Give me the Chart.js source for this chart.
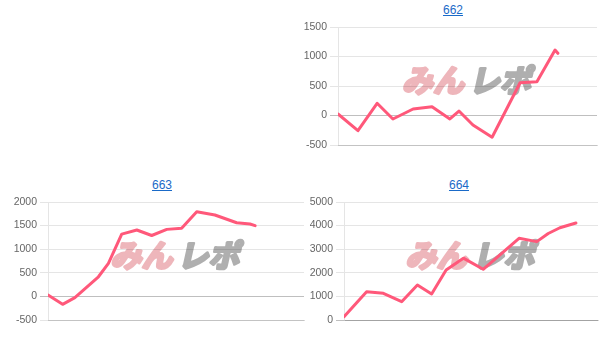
<!DOCTYPE html>
<html>
<head>
<meta charset="utf-8">
<script src="https://cdn.jsdelivr.net/npm/chart.js@4.4.1/dist/chart.umd.min.js"></script>
<style>
  html, body { margin: 0; padding: 0; background: #fff; width: 608px; height: 345px; overflow: hidden; }
  .ttl { position: absolute; width: 100px; text-align: center; font: 12px "Liberation Sans", Arial, sans-serif; }
  .ttl a { color: #1a6ac8; text-decoration: underline; }
  canvas { position: absolute; }
</style>
</head>
<body>
<div class="ttl" id="t662" style="left:403px; top:3px;"><a href="#">662</a></div>
<div class="ttl" id="t663" style="left:112px; top:178px;"><a href="#">663</a></div>
<div class="ttl" id="t664" style="left:409px; top:178px;"><a href="#">664</a></div>
<canvas id="c662" width="308" height="150" style="left:300px; top:15px;"></canvas>
<canvas id="c663" width="308" height="150" style="left:0px; top:190px;"></canvas>
<canvas id="c664" width="308" height="150" style="left:300px; top:190px;"></canvas>
<script>
// ---- data (x = game count, y = difference) ----
const titles = ["662", "663", "664"];
const xMax = 10000;

const x662 = [0, 770, 1510, 2120, 2900, 3630, 4320, 4670, 5210, 5950, 7030, 7680, 8380, 8490];
const y662 = [25, -258, 207, -59, 110, 150, -59, 76, -161, -369, 556, 573, 1110, 1054];

const x663 = [0, 570, 1050, 1970, 2360, 2880, 3470, 4050, 4640, 5220, 5810, 6520, 7370, 7890, 8090];
const y663 = [30, -168, -27, 416, 701, 1320, 1407, 1290, 1420, 1443, 1795, 1725, 1561, 1534, 1498];

const x664 = [0, 890, 1550, 2270, 2890, 3450, 4020, 4700, 5480, 6890, 7590, 8040, 8500, 9130];
const y664 = [141, 1200, 1130, 777, 1483, 1102, 2119, 2620, 2150, 3462, 3320, 3666, 3910, 4110];

const yTicks662 = [-500, 0, 500, 1000, 1500];
const yTicks663 = [-500, 0, 500, 1000, 1500, 2000];
const yTicks664 = [0, 1000, 2000, 3000, 4000, 5000];

const watermarkA = "みん";
const watermarkB = "レポ";

// ---- rendering ----
const watermark = {
  id: 'watermark',
  beforeDraw(chart) {
    const { ctx, chartArea } = chart;
    const cx = (chartArea.left + chartArea.right) / 2;
    const cy = (chartArea.top + chartArea.bottom) / 2 - 6;
    ctx.save();
    ctx.translate(cx, cy);
    ctx.transform(1, 0, -0.22, 1, 0, 0);
    ctx.font = 'bold 31px "Noto Sans CJK JP", sans-serif';
    ctx.textBaseline = 'middle';
    ctx.lineJoin = 'round';
    ctx.lineWidth = 3;
    ctx.textAlign = 'right';
    ctx.fillStyle = ctx.strokeStyle = 'rgb(238,182,187)';
    ctx.strokeText(watermarkA, -1, 0);
    ctx.fillText(watermarkA, -1, 0);
    ctx.textAlign = 'left';
    ctx.fillStyle = ctx.strokeStyle = 'rgb(175,175,175)';
    ctx.strokeText(watermarkB, 4, 0);
    ctx.fillText(watermarkB, 4, 0);
    ctx.restore();
  }
};

function makeChart(id, xs, ys, ticks, yWidth, pad) {
  const data = xs.map((x, i) => ({ x: x, y: ys[i] }));
  const step = ticks[1] - ticks[0];
  new Chart(document.getElementById(id), {
    type: 'line',
    data: {
      datasets: [{
        data: data,
        borderColor: 'rgb(255,88,122)',
        backgroundColor: 'rgba(255,88,122,0.2)',
        borderWidth: 3,
        pointRadius: 0,
        fill: false,
        tension: 0,
        borderCapStyle: 'round',
        borderJoinStyle: 'round'
      }]
    },
    options: {
      responsive: false,
      devicePixelRatio: 1,
      animation: false,
      layout: { padding: pad },
      plugins: { legend: { display: false }, tooltip: { enabled: false }, title: { display: false } },
      scales: {
        x: {
          type: 'linear',
          min: 0,
          max: xMax,
          ticks: { display: false },
          grid: { display: false },
          border: { display: true, color: 'rgba(0,0,0,0.15)' },
          afterFit(s) { s.height = 0; }
        },
        y: {
          min: ticks[0],
          max: ticks[ticks.length - 1],
          afterBuildTicks(s) { s.ticks = ticks.map(v => ({ value: v })); },
          ticks: {
            stepSize: step,
            color: '#666',
            padding: 3,
            font: { family: '"Liberation Sans", Arial, sans-serif', size: 10.5 },
            callback: (v) => String(v)
          },
          grid: {
            tickLength: 8,
            color: (c) => (c.tick && c.tick.value === 0) ? 'rgba(0,0,0,0.25)' : 'rgba(0,0,0,0.1)'
          },
          border: { display: true, color: 'rgba(0,0,0,0.1)' },
          afterFit(s) { s.width = yWidth; }
        }
      }
    },
    plugins: [watermark]
  });
}

makeChart('c662', x662, y662, yTicks662, 38, { left: 0, right: 11, top: 12, bottom: 20 });
makeChart('c663', x663, y663, yTicks663, 48, { left: 0, right: 4, top: 12, bottom: 20 });
makeChart('c664', x664, y664, yTicks664, 44, { left: 0, right: 10, top: 12, bottom: 20 });
</script>
</body>
</html>
